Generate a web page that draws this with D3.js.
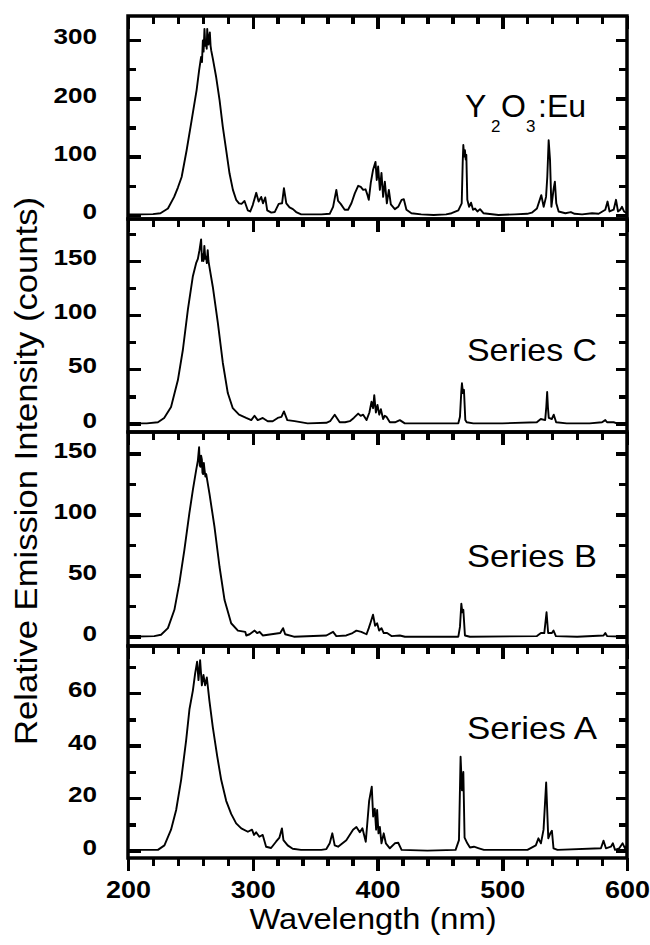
<!DOCTYPE html>
<html>
<head>
<meta charset="utf-8">
<script src="https://cdn.jsdelivr.net/npm/d3@7"></script>
<style>
  body { margin: 0; background: #fff; }
  svg { display: block; }
  text { font-family: "Liberation Sans", Arial, Helvetica, sans-serif; fill: #000; }
</style>
</head>
<body>
<div id="chart"></div>
<script>
// spectra as [wavelength (nm), counts]
const seriesY2O3 = [[200,1],[210,1],[220,1.5],[226,3],[232,11],[237,31],[240,47],[243,65],[247,111],[251,162],[255,214],[257,248],[258.6,271],[259.3,262],[260,299],[260.6,280],[261.3,319],[262,290],[262.6,296],[263.1,285],[263.5,319],[264,300],[264.5,292],[265,305],[265.6,313],[266.2,290],[266.7,282],[268,268],[270.7,236],[273.4,197],[276,151],[278.7,111],[281.4,71],[284.1,43],[286.7,26],[289,20],[291,19],[293.4,24],[296,8],[298,6],[300,17],[302.8,38],[304.7,23],[306.8,31],[308.2,20],[310,30],[311.6,8],[314.9,4],[317.6,5],[320.8,19],[323.5,20],[325,46],[326.9,20],[329.5,13],[332.2,10],[334.8,5],[338.8,1],[345,1],[355,1],[361.7,2],[364.4,14],[367,43],[368.4,24],[370.5,19],[373.7,9],[376.4,9],[379.1,20],[381.8,37],[384.5,50],[386.6,48],[388.5,43],[390.4,44],[392,34],[393,26],[394.6,55],[396.4,77],[398.4,91],[399.4,60],[400.5,83],[401.9,43],[403.2,72],[404.5,31],[405.9,57],[407.5,20],[409.1,43],[410.7,18],[413.9,10],[416.6,14],[419.3,26],[421.1,27],[423.2,9],[427.2,3],[435,1],[445,0],[455,1],[459.4,3],[464.8,8],[467.5,20],[468.3,90],[468.8,120],[469.5,100],[470.1,111],[470.7,95],[471.2,103],[472,26],[473.4,14],[475,21],[476.6,9],[478.2,11],[480.1,6],[482.2,10],[484.9,3],[497,0],[510,1],[520,2],[523.7,4],[527.8,11],[531.3,34],[533.2,14],[535.1,31],[536.1,65],[537.2,128],[538.3,94],[539.4,14],[541.2,45],[542.2,57],[543.3,20],[545.2,6],[550.6,3],[555,5],[558,2],[564,1],[572,3],[577.3,2],[582.6,9],[584.4,23],[586,6],[589.3,9],[591.2,26],[592.8,6],[594.6,9],[596,14],[597.6,6],[600,3]];

const seriesC = [[200,0],[215,0],[224,1],[229,5],[234.5,15],[240,40],[244,68],[248,105],[252,136],[254.6,148],[256,152],[257.3,160],[258.6,170],[259.3,150],[259.9,156],[260.5,150],[261.2,164],[262,152],[262.6,154],[263.2,148],[263.9,160],[264.5,150],[265.2,145],[268,126],[272,93],[276,56],[280,28],[284,14],[289,8],[294.7,5],[298.8,3],[301.4,7],[304,3],[306,4],[308,5],[312,2],[316,2],[320,5],[323,6],[325,11],[327.7,3],[333.6,2],[344,0],[359,0.5],[362,2],[365.7,8],[369.7,1],[374,1],[377.8,2],[381,5],[384.5,9],[386.5,7],[388.5,8],[391.2,3],[393.5,10],[395.2,20],[396.5,14],[397.4,26],[398.7,10],[400,17],[401.4,8],[402.7,13],[404.5,4],[405.8,7],[407.2,6],[409.9,1],[414,1],[417.9,3],[421.9,0],[440,0],[464.8,0],[466.1,6],[467.2,30],[467.7,37],[468.5,28],[469.3,31],[470.4,3],[471.5,1],[476.8,0],[500,0],[527.7,1],[530.9,4],[534.4,3],[535.3,15],[536,29],[536.6,15],[537.3,5],[539.7,4],[541.3,8],[543.2,1],[551.7,0],[570,0],[580,1],[582.6,3],[584,1],[589.3,1],[592,0],[600,0]];

const seriesB = [[200,0],[221,0.5],[226.5,1.6],[232,7],[237.2,22],[241.2,44],[245.2,71],[249.2,101],[252,120],[254.6,136],[256,144],[257,155],[257.5,140],[258.1,139],[258.6,148],[259.2,145],[259.7,134],[260.2,133],[260.8,142],[261.3,137],[262,131],[262.7,133],[265.3,117],[269.3,90],[273.4,57],[277.4,30],[282.7,11],[288.1,5],[294,4],[294.8,1],[297.5,2],[301.5,5],[303.5,3],[305.5,4],[308,1],[315,2],[322,3],[324.3,7],[326,2],[333,0],[359,1],[364.4,4],[367,0.5],[375,1],[380,3],[383.1,5],[387,4],[391.2,2],[393,7],[394.6,12],[396.4,18],[398.1,9],[399.7,11],[401.3,5],[403.2,7],[405,3],[407.7,3],[411.2,0.5],[417.9,1],[422,0],[464.8,0],[466.1,8],[467.2,27],[468,20],[468.8,22],[470.1,1],[474,0],[527.8,0.5],[531,3],[533.7,3],[535.5,20],[536.8,3],[539.8,3],[541.1,5],[543,0.5],[560,0],[581.2,1],[582.6,3],[584,0.5],[600,0]];

const seriesA = [[200,0.3],[224,0.3],[229.2,2],[234.5,8],[238.6,15.5],[242.6,27],[246.6,42],[249.3,54],[252,61],[253.8,67.5],[255.4,72],[256.5,65],[257.8,72.6],[259.2,63],[260.5,67],[261.8,63],[263.2,66],[265.3,57],[268,47],[271.5,36],[274.7,27],[278.7,19],[282.7,14],[286.7,10.4],[290.8,8.5],[296.1,7.2],[299.4,8],[301,6],[302.7,7],[305.3,5.3],[308,6],[310.7,1.5],[314.7,1],[318.8,3.5],[321.4,5],[323.4,8.5],[324.6,4],[328,2],[332,0.7],[338.7,0.3],[355,0.3],[359,0.6],[361.7,2.8],[363.8,6.6],[365.7,2],[368.4,1.5],[375,4],[380.4,8],[383.1,9],[385.8,7],[387.9,8.5],[390.6,3.4],[393.3,19],[395.4,24.4],[396.5,13],[397.8,16],[398.9,8],[399.7,15.5],[400.8,6.6],[401.9,9],[403.2,2.8],[405,6.6],[406.7,2.8],[409.9,0.9],[413.9,2.8],[416.6,3],[419.3,0.3],[440,0],[462.6,0.3],[465.3,4],[466.6,35.8],[467.7,23],[468.8,30],[469.8,5],[472,2.8],[474.1,1.2],[477.3,1.5],[481.3,0.9],[485.3,0.3],[520.2,0.3],[526.9,2],[529,4.7],[531,2.8],[533.1,8],[535.2,26],[536.9,4.7],[538.5,6.6],[539.8,7.6],[541.1,0.9],[544.3,0.3],[579.1,0.9],[581.2,3.8],[583.1,0.9],[587.1,1.5],[588.7,2.8],[590.4,0.3],[593.8,0.9],[596.5,2.8],[598.4,0.9],[600,2]];

// tick values
const xMajor = [200, 300, 400, 500, 600];
const xMinor = [220, 240, 260, 280, 320, 340, 360, 380, 420, 440, 460, 480, 520, 540, 560, 580];
const ticksY2O3 = [0, 100, 200, 300], minorY2O3 = [50, 150, 250];
const ticksC = [0, 50, 100, 150], minorC = [25, 75, 125, 175];
const ticksB = [0, 50, 100, 150], minorB = [25, 75, 125];
const ticksA = [0, 20, 40, 60], minorA = [10, 30, 50, 70];

const labelC = "Series C", labelB = "Series B", labelA = "Series A";
const xTitle = "Wavelength (nm)";
const yTitle = "Relative Emission Intensity (counts)";

let width = 650, height = 945;

let svg = d3.select("#chart").append("svg")
    .attr("width", width)
    .attr("height", height);

let x = d3.scaleLinear().domain([200, 600]).range([128, 627]);

// one entry per stacked panel, top to bottom
let panels = [
    {data: seriesY2O3, domain: [-6.9, 341], top: 16, bottom: 219, major: ticksY2O3, minor: minorY2O3},
    {data: seriesC, domain: [-8, 188.8], top: 219, bottom: 432, major: ticksC, minor: minorC, label: labelC, labelY: 361},
    {data: seriesB, domain: [-7.6, 167.4], top: 432, bottom: 646, major: ticksB, minor: minorB, label: labelB, labelY: 567},
    {data: seriesA, domain: [-2.8, 78], top: 646, bottom: 858, major: ticksA, minor: minorA, label: labelA, labelY: 739}
];

function styleTicks(g) {
    g.select(".domain").remove();
    g.selectAll(".tick text").filter(function () { return this.textContent === ""; }).remove();
    g.selectAll(".tick line")
        .attr("stroke", "#000")
        .attr("stroke-width", 3.5)
        .attr("shape-rendering", "crispEdges");
}

// ticks first, in their own layer
let tickLayer = svg.append("g");
let markLayer = svg.append("g");

panels.forEach(function (p) {
    let y = d3.scaleLinear().domain(p.domain).range([p.bottom, p.top]);

    // spectrum
    markLayer.append("path")
        .datum(p.data)
        .attr("fill", "none")
        .attr("stroke", "#000")
        .attr("stroke-width", 1.9)
        .attr("stroke-linejoin", "round")
        .attr("d", d3.line()
            .x(function (d) { return x(d[0]); })
            .y(function (d) { return y(d[1]); })
        );

    // frame
    markLayer.append("rect")
        .attr("x", x.range()[0])
        .attr("y", p.top)
        .attr("width", x.range()[1] - x.range()[0])
        .attr("height", p.bottom - p.top)
        .attr("fill", "none")
        .attr("stroke", "#000")
        .attr("stroke-width", 3.5);

    // left axis, ticks pointing in
    tickLayer.append("g")
        .attr("transform", "translate(" + x.range()[0] + ",0)")
        .call(d3.axisLeft(y).tickValues(p.minor).tickSizeInner(-8).tickSizeOuter(0).tickFormat(""))
        .call(styleTicks);
    let left = tickLayer.append("g")
        .attr("transform", "translate(" + x.range()[0] + ",0)")
        .call(d3.axisLeft(y).tickValues(p.major).tickSizeInner(-13).tickSizeOuter(0).tickPadding(31))
        .call(styleTicks);
    left.selectAll(".tick text")
        .style("font-family", "'Liberation Sans', Arial, sans-serif")
        .style("font-size", "21.5px")
        .style("font-weight", "bold")
        .attr("dy", 3.75)
        .attr("textLength", d => String(d).length * 14.5)
        .attr("lengthAdjust", "spacingAndGlyphs");

    // right axis
    tickLayer.append("g")
        .attr("transform", "translate(" + x.range()[1] + ",0)")
        .call(d3.axisRight(y).tickValues(p.minor).tickSizeInner(-8).tickSizeOuter(0).tickFormat(""))
        .call(styleTicks);
    tickLayer.append("g")
        .attr("transform", "translate(" + x.range()[1] + ",0)")
        .call(d3.axisRight(y).tickValues(p.major).tickSizeInner(-11).tickSizeOuter(0).tickFormat(""))
        .call(styleTicks);

    // top axis, ticks pointing down into the panel
    tickLayer.append("g")
        .attr("transform", "translate(0," + p.top + ")")
        .call(d3.axisTop(x).tickValues(xMinor).tickSizeInner(-8).tickSizeOuter(0).tickFormat(""))
        .call(styleTicks);
    tickLayer.append("g")
        .attr("transform", "translate(0," + p.top + ")")
        .call(d3.axisTop(x).tickValues(xMajor).tickSizeInner(-13).tickSizeOuter(0).tickFormat(""))
        .call(styleTicks);

    if (p.label) {
        markLayer.append("text")
            .attr("x", 467)
            .attr("y", p.labelY)
            .style("font-size", "32px")
            .attr("textLength", 130)
            .attr("lengthAdjust", "spacingAndGlyphs")
            .text(p.label);
    }
});

// Y2O3:Eu label with subscripts
let chem = markLayer.append("text").attr("y", 117).style("font-size", "32px");
chem.append("tspan").attr("x", 465).text("Y");
chem.append("tspan").attr("x", 491).attr("dy", 14.5).style("font-size", "17px").text("2");
chem.append("tspan").attr("x", 501).attr("dy", -14.5).text("O");
chem.append("tspan").attr("x", 526).attr("dy", 14.5).style("font-size", "17px").text("3");
chem.append("tspan").attr("x", 538).attr("dy", -14.5).text(":Eu");

// bottom x axis with labels (outward ticks)
let yBottom = panels[3].bottom;
tickLayer.append("g")
    .attr("transform", "translate(0," + yBottom + ")")
    .call(d3.axisBottom(x).tickValues(xMinor).tickSizeInner(8).tickSizeOuter(0).tickFormat(""))
    .call(styleTicks);
let bottomAxis = tickLayer.append("g")
    .attr("transform", "translate(0," + yBottom + ")")
    .call(d3.axisBottom(x).tickValues(xMajor).tickSizeInner(13).tickSizeOuter(0))
    .call(styleTicks);
bottomAxis.selectAll(".tick text")
    .style("font-family", "'Liberation Sans', Arial, sans-serif")
    .style("font-size", "24px")
    .style("font-weight", "bold")
    .attr("y", 40)
    .attr("dy", null)
    .attr("textLength", 45)
    .attr("lengthAdjust", "spacingAndGlyphs");

// axis titles
markLayer.append("text")
    .attr("x", 373)
    .attr("y", 929)
    .attr("text-anchor", "middle")
    .style("font-size", "30px")
    .attr("textLength", 247)
    .attr("lengthAdjust", "spacingAndGlyphs")
    .text(xTitle);

markLayer.append("text")
    .attr("transform", "translate(36.5,471) rotate(-90)")
    .attr("text-anchor", "middle")
    .style("font-size", "31px")
    .attr("textLength", 548)
    .attr("lengthAdjust", "spacingAndGlyphs")
    .text(yTitle);
</script>
</body>
</html>
